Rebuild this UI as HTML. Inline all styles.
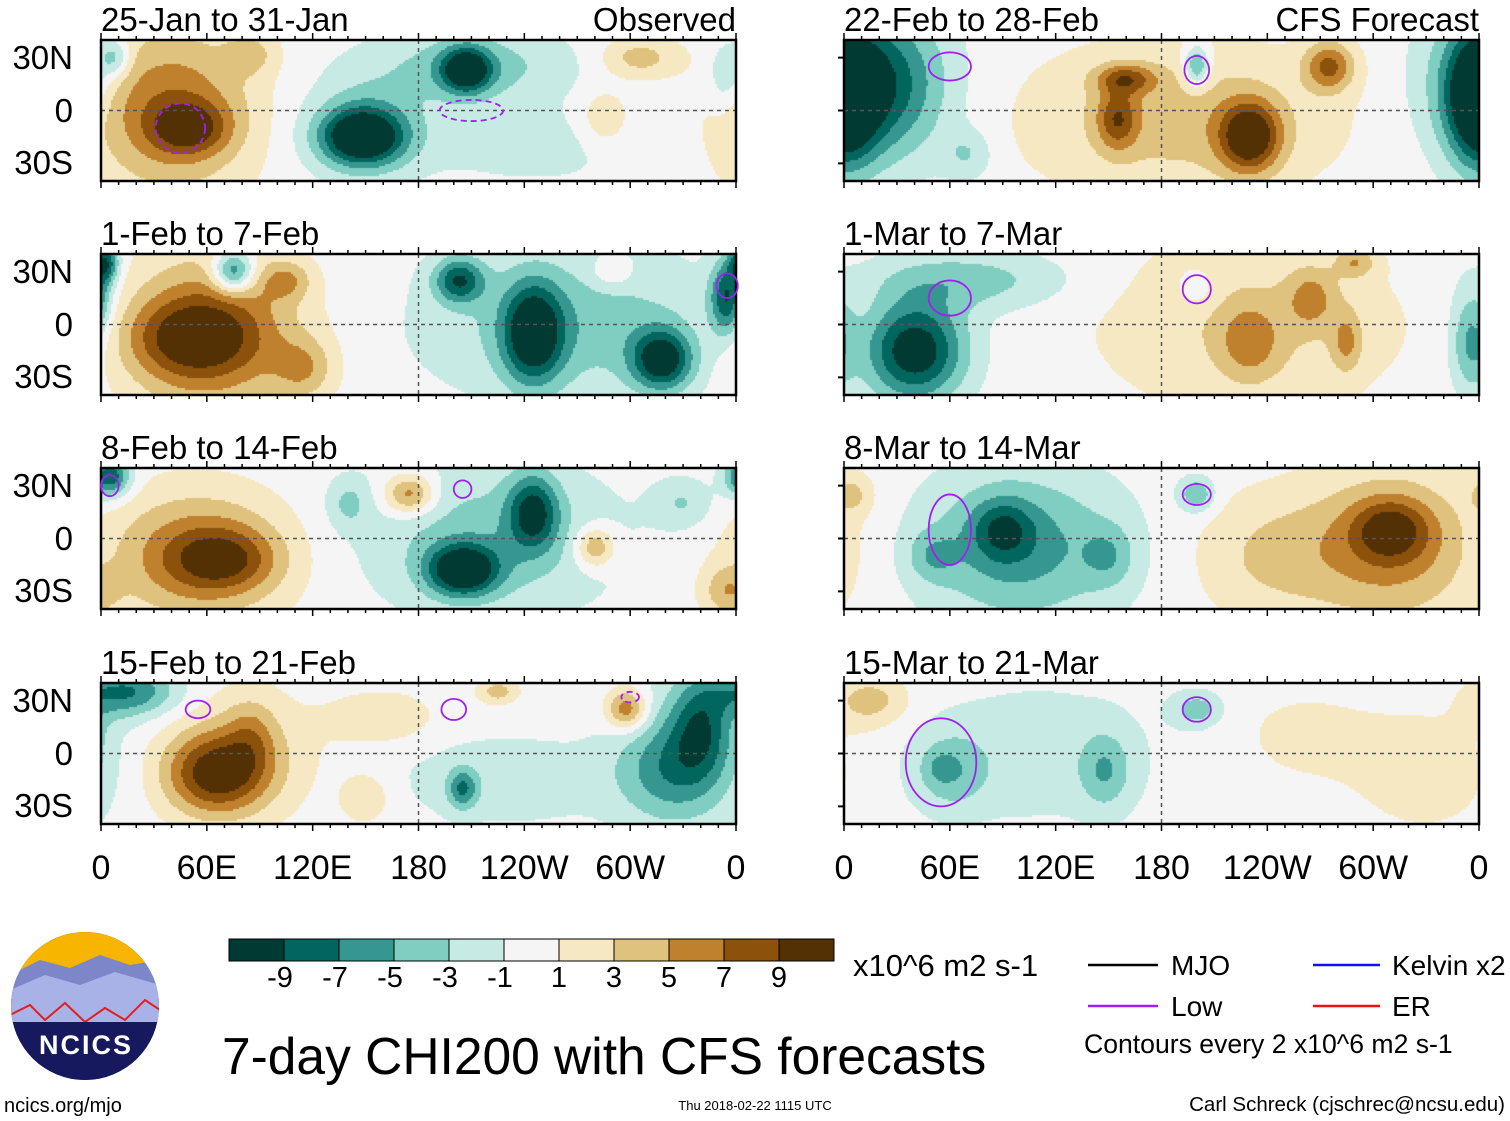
<!DOCTYPE html>
<html><head><meta charset="utf-8">
<style>
body{margin:0;background:#fff;width:1510px;height:1121px;position:relative;overflow:hidden;font-family:"Liberation Sans",sans-serif;color:#000}
.t{position:absolute;white-space:nowrap;line-height:1}
canvas{position:absolute}
</style></head><body>
<svg id="ov" width="1510" height="1121" style="position:absolute;left:0;top:0"></svg>
<div id="txt"></div>
<script>
// Panel data: blobs [lon, lat, amplitude, sigmaLon, sigmaLat]
const panelTitles=["25-Jan to 31-Jan","1-Feb to 7-Feb","8-Feb to 14-Feb","15-Feb to 21-Feb","22-Feb to 28-Feb","1-Mar to 7-Mar","8-Mar to 14-Mar","15-Mar to 21-Mar"];
const blobs0=[[40,0,7,32,32],[50,-10,6,15,10],[85,32,3,10,8],[148,-15,-11,16,11],[150,-10,-4,25,20],[207,23,-10,10,9],[210,25,-4,40,15],[245,-20,-2,40,15],[305,30,4,15,8],[285,-5,3,10,12],[355,20,-4,8,15],[8,30,-5,6,8]];
const blobs1=[[60,-5,8,35,30],[50,-8,5,25,15],[75,30,-9,8,8],[115,-25,4,12,12],[105,25,4,10,8],[203,25,-8,10,9],[245,-5,-10,12,20],[318,-20,-10,12,12],[355,15,-9,7,15],[270,0,-4,60,30],[3,35,-8,5,8],[290,30,3,8,6]];
const blobs2=[[55,-10,7,35,25],[70,-12,5,20,12],[5,35,-9,8,8],[175,25,7,10,8],[205,-18,-11,14,10],[245,15,-8,10,15],[220,0,-4,50,30],[280,-5,6,8,8],[355,-30,4,10,10],[330,20,-3,12,10],[140,20,-3,8,10]];
const blobs3=[[65,-12,9,20,16],[80,0,3,30,25],[85,10,3,10,15],[15,35,-7,20,10],[160,20,3,20,10],[225,35,4,8,5],[150,-25,3,10,10],[298,25,7,8,8],[340,15,-6,12,20],[335,0,-3,25,30],[320,-10,-4,20,20],[205,-20,-6,6,8],[230,-15,-2,50,20]];
const blobs4=[[15,15,-10,28,30],[360,5,-10,12,25],[160,18,6,12,6],[155,-5,6,8,12],[230,-15,10,12,14],[275,25,7,10,10],[190,-5,4,60,30],[200,25,-7,5,8],[70,-25,-3,10,10]];
const blobs5=[[40,-15,-11,20,20],[70,25,-4,40,12],[230,0,3,60,35],[230,-10,4,12,15],[265,15,4,10,12],[285,-10,4,6,12],[290,35,4,8,6],[355,-10,-5,8,20],[200,20,-2,8,8]];
const blobs6=[[100,-5,-6,40,30],[90,5,-5,12,12],[50,-10,-3,10,10],[150,-10,-3,10,12],[200,25,-5,7,7],[310,-5,6,35,30],[310,5,6,15,12],[240,-10,3,30,25],[5,25,3,8,8]];
const blobs7=[[60,-10,-4,15,15],[55,-8,-2,5,5],[148,-10,-4,10,15],[200,25,-4,10,7],[110,0,-2,50,30],[15,30,4,15,10],[260,10,1.5,30,20],[330,-10,2,30,25]];
const allBlobs=[blobs0,blobs1,blobs2,blobs3,blobs4,blobs5,blobs6,blobs7];
const levels=[-9,-7,-5,-3,-1,1,3,5,7,9];
const colors=["#013a33","#01665e","#35978f","#80cdc1","#c7eae5","#f5f5f5","#f6e8c3","#dfc27d","#bf812d","#8c510a","#543005"];
const tickLbl=["-9","-7","-5","-3","-1","1","3","5","7","9"];
const lonLbl=["0","60E","120E","180","120W","60W","0"];
const latLbl=["30N","0","30S"];
// Low contours: [panel, lon, lat, sigmaLon, sigmaLat, dashed]
const lows=[[0,210,0,18,6,1],[0,45,-10,14,14,1],[1,355,22,6,7,0],[2,205,28,5,5,0],[2,5,30,5,6,0],[3,200,25,7,6,0],[3,55,25,7,5,0],[3,300,32,5,3,1],[4,60,25,12,8,0],[4,200,23,7,8,0],[5,60,15,12,10,0],[5,200,20,8,8,0],[6,60,5,12,20,0],[6,200,25,8,6,0],[7,55,-5,20,25,0],[7,200,25,8,7,0]];

const W=635,H=141,colX=[101,844],rowY=[40,254,468,683];
const ov=document.getElementById('ov'),txt=document.getElementById('txt');
const NS='http://www.w3.org/2000/svg';
function sv(tag,a){const e=document.createElementNS(NS,tag);for(const k in a)e.setAttribute(k,a[k]);ov.appendChild(e);return e;}
function tx(s,x,y,fs,anchor){const d=document.createElement('div');d.className='t';d.textContent=s;d.style.fontSize=fs+'px';d.style.top=y+'px';
 if(anchor==='r'){d.style.right=(1510-x)+'px';}else if(anchor==='c'){d.style.left=x+'px';d.style.transform='translateX(-50%)';}else d.style.left=x+'px';txt.appendChild(d);return d;}
const xOf=(x0,lon)=>x0+lon/360*W, yOf=(y0,lat)=>y0+(40-lat)/80*H;
function lvl(v){let i=0;while(i<levels.length&&v>levels[i])i++;return i;}

for(let p=0;p<8;p++){
 const x0=colX[p<4?0:1],y0=rowY[p%4],b=allBlobs[p];
 const c=document.createElement('canvas');c.width=W;c.height=H;c.style.left=x0+'px';c.style.top=y0+'px';
 
 
 document.body.appendChild(c);const g=c.getContext('2d');
 const s=2;
 for(let py=0;py<H;py+=s)for(let px=0;px<W;px+=s){
  const lon=(px+1)/W*360,lat=40-(py+1)/H*80;let v=0;
  for(const q of b){let dl=lon-q[0];if(dl>180)dl-=360;if(dl<-180)dl+=360;v+=q[2]*Math.exp(-(dl*dl)/(2*q[3]*q[3])-((lat-q[1])**2)/(2*q[4]*q[4]));}
  g.fillStyle=colors[lvl(v)];g.fillRect(px,py,s,s);
 }
 tx(panelTitles[p],x0,y0-37,33);
 if(p===0)tx("Observed",x0+W,y0-37,33,'r');
 if(p===4)tx("CFS Forecast",x0+W,y0-37,33,'r');
 if(p<4){[30,0,-30].forEach((la,i)=>tx(latLbl[i],73,yOf(y0,la)-17,33,'r'));}
}
document.body.appendChild(ov);document.body.appendChild(txt);
for(let p=0;p<8;p++){
 const x0=colX[p<4?0:1],y0=rowY[p%4];
 if(p>=4)[30,0,-30].forEach(la=>sv('line',{x1:x0-6,x2:x0,y1:yOf(y0,la),y2:yOf(y0,la),stroke:'#000','stroke-width':2}));
 sv('line',{x1:x0,x2:x0+W,y1:yOf(y0,0),y2:yOf(y0,0),stroke:'#555','stroke-dasharray':'4,4','stroke-width':1.5});
 sv('line',{x1:xOf(x0,180),x2:xOf(x0,180),y1:y0,y2:y0+H,stroke:'#555','stroke-dasharray':'4,4','stroke-width':1.5});
 sv('rect',{x:x0,y:y0,width:W,height:H,fill:'none',stroke:'#000','stroke-width':2.5});
 for(let l=0;l<=360;l+=10){const xx=xOf(x0,l),len=l%60===0?7:4;
  sv('line',{x1:xx,x2:xx,y1:y0-len,y2:y0,stroke:'#000','stroke-width':1.5});
  sv('line',{x1:xx,x2:xx,y1:y0+H,y2:y0+H+len,stroke:'#000','stroke-width':1.5});}
}
lows.forEach(l=>{const x0=colX[l[0]<4?0:1],y0=rowY[l[0]%4];const a={cx:xOf(x0,l[1]),cy:yOf(y0,l[2]),rx:l[3]/360*W,ry:l[4]/80*H,fill:'none',stroke:'#a020f0','stroke-width':1.8};
 if(l[5])a['stroke-dasharray']='6,4';const e=sv('ellipse',a);
 
 });
[0,1].forEach(ci=>[0,60,120,180,240,300,360].forEach((l,i)=>tx(lonLbl[i],xOf(colX[ci],l),851,34,'c')));
for(let i=0;i<11;i++){const r=sv('rect',{x:229+i*55,y:939,width:55,height:22,fill:colors[i],stroke:'#000','stroke-width':1});
 
 }
for(let i=0;i<10;i++)tx(tickLbl[i],284+i*55-(i<5?4:0),964,29,'c');
tx("x10^6 m2 s-1",853,950,31);
tx("7-day CHI200 with CFS forecasts",222,1031,51.5);
sv('line',{x1:1088,x2:1158,y1:965,y2:965,stroke:'#000','stroke-width':2.5});
sv('line',{x1:1088,x2:1158,y1:1006,y2:1006,stroke:'#a020f0','stroke-width':2.5});
sv('line',{x1:1313,x2:1380,y1:965,y2:965,stroke:'#1010ff','stroke-width':2.5});
sv('line',{x1:1313,x2:1380,y1:1006,y2:1006,stroke:'#ee1111','stroke-width':2.5});
tx("MJO",1171,952,28);tx("Low",1171,993,28);tx("Kelvin x2",1392,952,28);tx("ER",1392,993,28);
tx("Contours every 2 x10^6 m2 s-1",1084,1031,26.6);
tx("Carl Schreck (cjschrec@ncsu.edu)",1505,1095,20.5,'r');
tx("ncics.org/mjo",4,1096,20);
tx("Thu 2018-02-22 1115 UTC",755,1099,13,'c');
const defs=sv('defs',{});
const cp=document.createElementNS(NS,'clipPath');cp.setAttribute('id','lc');defs.appendChild(cp);
const cc=document.createElementNS(NS,'circle');cc.setAttribute('cx',85);cc.setAttribute('cy',1006);cc.setAttribute('r',74);cp.appendChild(cc);
const lg=sv('g',{'clip-path':'url(#lc)'});
function lp(tag,a){const e=document.createElementNS(NS,tag);for(const k in a)e.setAttribute(k,a[k]);lg.appendChild(e);}
lp('rect',{x:10,y:930,width:150,height:160,fill:'#16195e'});
lp('rect',{x:10,y:930,width:150,height:45,fill:'#f7b500'});
lp('path',{d:'M10 975 L40 960 L70 968 L100 955 L130 965 L160 960 L160 1000 L10 1000Z',fill:'#7c86c8'});
lp('path',{d:'M10 990 L45 975 L80 985 L115 972 L160 985 L160 1030 L10 1030Z',fill:'#a8b2e6'});
lp('path',{d:'M10 1015 L30 1005 L45 1020 L65 1003 L85 1022 L105 1008 L125 1020 L145 1000 L160 1010',fill:'none',stroke:'#e02020','stroke-width':2});
lp('rect',{x:10,y:1022,width:150,height:70,fill:'#16195e'});
tx("NCICS",86,1032,27,'c').style.cssText+='color:#fff;font-weight:bold;letter-spacing:2px';
</script>
</body></html>
